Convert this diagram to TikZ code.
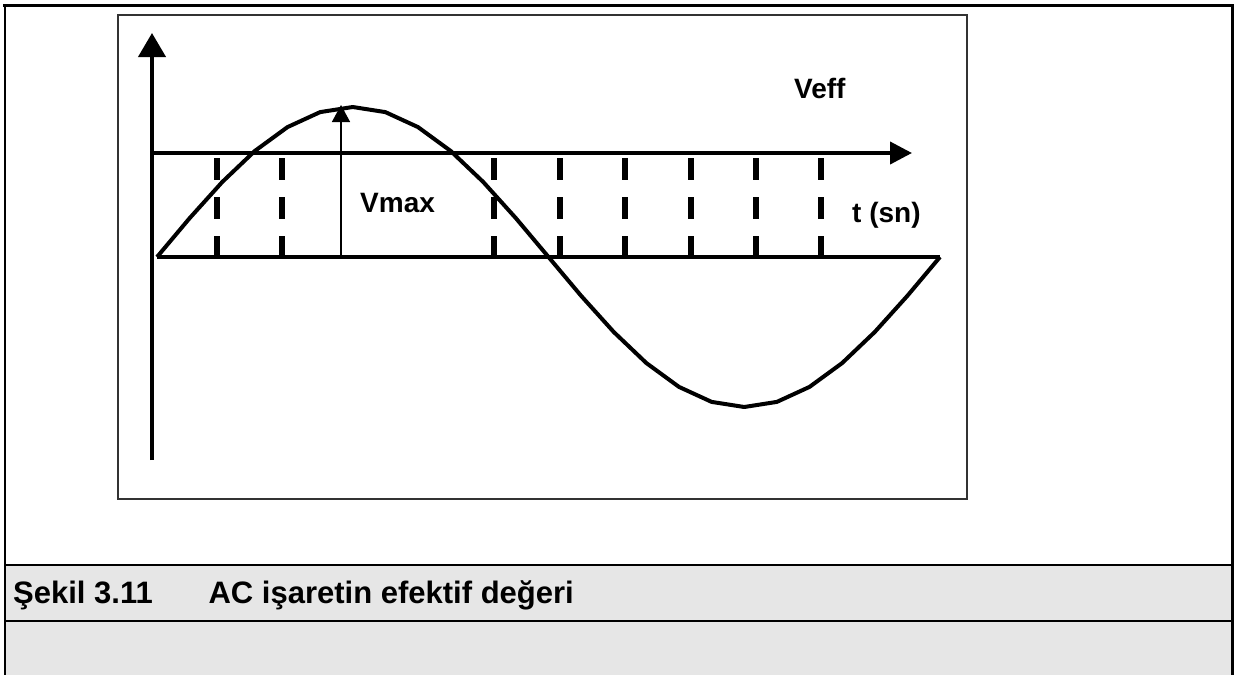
\documentclass[tikz,border=0pt]{standalone}
\usepackage{fontspec}
\setmainfont{Liberation Sans}
\usetikzlibrary{arrows.meta}
\definecolor{bandgray}{HTML}{E6E6E6}
\begin{document}
\begin{tikzpicture}[x=1pt,y=-1pt,
  lbl/.style={inner sep=0pt,anchor=base west,font=\fontsize{28}{33}\selectfont\bfseries},
  axisline/.style={line width=4pt},
  dashline/.style={line width=6pt,dash pattern=on 22pt off 17pt},
  border/.style={line width=2.5pt}]
\useasboundingbox (0,0) rectangle (1237,675);
% outer frame and caption bands
\fill[bandgray] (5,565) rectangle (1232,675);
\draw[border] (5,565) -- (1232,565);
\draw[border] (5,621) -- (1232,621);
\draw[line width=3pt] (3,5) -- (1233.5,5);
\draw[border] (5,5) -- (5,675);
\draw[line width=3pt] (1232,5) -- (1232,675);
\node[lbl,font=\fontsize{31}{36}\selectfont\bfseries] (cap) at (13,603) {Şekil 3.11\hspace{1.8em}AC işaretin efektif değeri};
% inner frame
\draw[line width=1.2pt,black!80] (118,15) rectangle (967,499);
% coordinates
\coordinate (vb) at (152,460);
\coordinate (vt) at (152,33);
\coordinate (hl) at (150,153);
\coordinate (hr) at (912,153);
\coordinate (bl) at (157,257);
\coordinate (br) at (940,257);
\coordinate (mb) at (341,257);
\coordinate (mt) at (341,105);
% dashed verticals
\foreach \xx in {217,282,494,560,625,691,756,821}
  \draw[dashline] (\xx,158) -- (\xx,257);
% axes
\draw[axisline,-{Triangle[width=27pt,length=24pt]}] (vb) -- (vt);
\draw[axisline,-{Triangle[width=22pt,length=22pt]}] (hl) -- (hr);
\draw[line width=3.5pt] (bl) -- (br);
% sine
\draw[line width=4pt,line join=round] plot[domain=0:360,samples=25] ({157+2.175*\x},{257-150*sin(\x)});
% Vmax arrow
\draw[line width=1.5pt,-{Triangle[width=18pt,length=17pt]}] (mb) -- (mt);
% labels
\node[lbl] (vmax) at (360,212) {Vmax};
\node[lbl] (veff) at (794,98) {Veff};
\node[lbl] (tsn) at (852,222) {t (sn)};
\end{tikzpicture}
\end{document}
